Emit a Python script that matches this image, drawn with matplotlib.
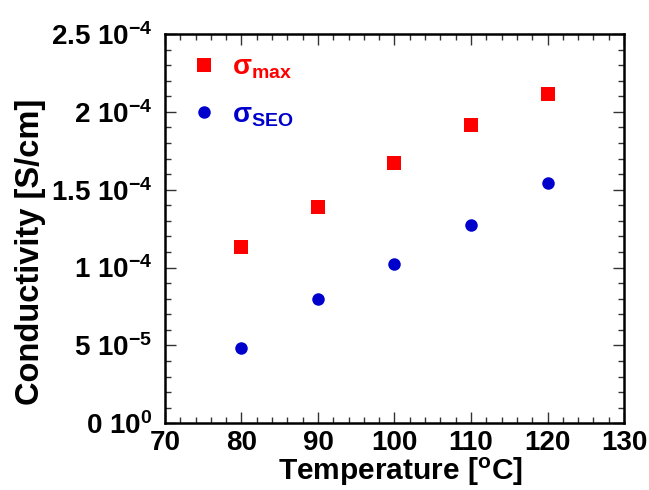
#!/usr/bin/env python3
import math
import matplotlib
matplotlib.use('Agg')
import matplotlib.pyplot as plt
from matplotlib.ticker import MultipleLocator, FuncFormatter

# dane
temperature = [80, 90, 100, 110, 120]
sigma_max = [1.132e-4, 1.389e-4, 1.670e-4, 1.914e-4, 2.115e-4]
sigma_seo = [0.486e-4, 0.800e-4, 1.023e-4, 1.276e-4, 1.545e-4]
labels = ['σ$_{max}$', 'σ$_{SEO}$']

plt.rcParams['font.family'] = ['Liberation Sans', 'DejaVu Sans']
plt.rcParams['font.weight'] = 'bold'
plt.rcParams['mathtext.default'] = 'regular'


def sci_label(v, pos):
	# format "2.5 10^-4" jak w oryginale
	if abs(v) < 1e-12:
		return '0 10$^{0}$'
	e = int(math.floor(math.log10(abs(v)) + 1e-9))
	m = v / 10 ** e
	return '%g 10$^{%d}$' % (round(m, 3), e)


fig = plt.figure(figsize=(6.49, 4.90), dpi=100)
ax = fig.add_axes([0.2542, 0.1361, 0.7073, 0.7945])

ax.plot(temperature, sigma_max, 's', color='#ff0000', markersize=9.5,
		markeredgewidth=0, label=labels[0])
ax.plot(temperature, sigma_seo, 'o', color='#0000cc', markersize=9,
		markeredgewidth=0, label=labels[1])

ax.set_xlim(70, 130)
ax.set_ylim(0, 2.5e-4)
ax.xaxis.set_major_locator(MultipleLocator(10))
ax.xaxis.set_minor_locator(MultipleLocator(2))
ax.yaxis.set_major_locator(MultipleLocator(0.5e-4))
ax.yaxis.set_minor_locator(MultipleLocator(0.1e-4))
ax.yaxis.set_major_formatter(FuncFormatter(sci_label))

ax.tick_params(which='both', direction='in', top=True, right=True,
			   width=1, color='#333333', labelsize=20)
ax.tick_params(which='major', length=8, pad=5)
ax.tick_params(which='minor', length=4)
ax.tick_params(axis='y', which='major', pad=9)
for sp in ax.spines.values():
	sp.set_linewidth(1.8)

ax.set_xlabel('Temperature [$^{o}$C]', fontsize=21.5, fontweight='bold')
ax.set_ylabel('Conductivity [S/cm]', fontsize=23.5, fontweight='bold')
# pozycje podpisow osi jak w oryginale
ax.xaxis.label.set_va('bottom')
ax.xaxis.set_label_coords(0.512, -0.166)
ax.yaxis.set_label_coords(-0.26, 0.44)

leg = ax.legend(loc='upper left', bbox_to_anchor=(0.03, 0.975), frameon=False,
				numpoints=1, fontsize=20, handlelength=1.0, handletextpad=0.5,
				labelspacing=0.75, borderaxespad=0)
for txt, c in zip(leg.get_texts(), ['#ff0000', '#0000cc']):
	txt.set_color(c)

fig.savefig('out.png', dpi=100)
